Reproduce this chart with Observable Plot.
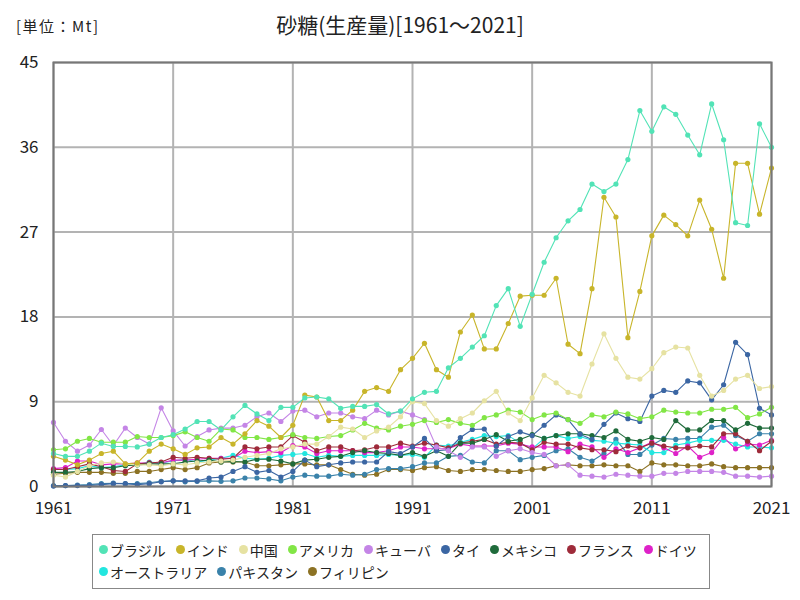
<!DOCTYPE html>
<html><head><meta charset="utf-8">
<script src="https://cdn.jsdelivr.net/npm/d3@7"></script>
<script src="https://cdn.jsdelivr.net/npm/@observablehq/plot@0.6"></script>
<style>
body{margin:0;background:#fff;}
#wrap{position:relative;width:800px;height:600px;font-family:"Noto Sans CJK JP",sans-serif;color:#222;}
#chart{position:absolute;left:0;top:0;}
#unit{position:absolute;left:16px;top:15px;font-size:15px;letter-spacing:1.5px;font-family:"Liberation Sans Narrow","Noto Sans CJK JP",sans-serif;}
#title{position:absolute;left:0;width:800px;top:9px;text-align:center;font-size:21px;font-family:"Liberation Sans Narrow","Noto Sans CJK JP",sans-serif;}
#legend{position:absolute;left:92px;top:534px;width:618px;height:55px;border:1.5px solid #888;box-sizing:border-box;padding:5px 4px 0 6px;display:flex;flex-wrap:wrap;column-gap:10px;row-gap:3px;align-content:flex-start;font-size:14px;}
.it{display:inline-flex;align-items:center;height:19px;white-space:nowrap;}
.mk{width:9px;height:9px;border-radius:50%;margin-right:2px;display:inline-block;}
</style></head><body>
<div id="wrap">
<div id="chart"></div>
<div id="unit">[単位：Mt]</div>
<div id="title">砂糖(生産量)[1961～2021]</div>
<div id="legend"></div>
</div>
<script>
const years = d3.range(1961, 2022);
const names = ["ブラジル","インド","中国","アメリカ","キューバ","タイ","メキシコ","フランス","ドイツ","オーストラリア","パキスタン","フィリピン"];
const colors = ["#52e3b6","#c8b52a","#e6e2a2","#82e646","#c485e6","#3b66a3","#1f6b3b","#9e2b3a","#de22c8","#22e6df","#3a82aa","#8c7224"];
const xTicks = [1961,1971,1981,1991,2001,2011,2021];
const yTicks = [0,9,18,27,36,45];

const brazil = [3.5,3.2,3.2,3.75,4.6,4.25,4.25,4.2,4.5,5.2,
5.5,6.1,6.9,6.9,6.0,7.4,8.6,7.7,7.0,8.4,
8.4,9.4,9.5,9.3,8.3,8.5,8.5,8.7,7.7,8.0,
9.3,10.0,10.1,12.6,13.6,14.8,16.0,19.2,21.0,17.0,
20.4,23.8,26.4,28.2,29.4,32.1,31.3,32.1,34.7,39.9,
37.7,40.3,39.5,37.3,35.2,40.6,36.8,28.0,27.7,38.5,36.0];
const india = [3.2,2.8,2.3,2.8,3.5,3.75,2.4,2.5,3.75,4.5,
4.0,3.4,4.1,4.2,5.2,4.5,5.6,7.0,6.4,5.2,
6.5,9.7,9.5,7.0,7.0,8.1,10.1,10.5,10.1,12.4,
13.6,15.2,12.4,11.6,16.4,18.2,14.6,14.6,17.3,20.2,
20.3,20.3,22.1,15.1,14.1,21.0,30.7,28.6,15.8,20.7,
26.6,28.8,27.8,26.6,30.4,27.3,22.1,34.3,34.3,28.9,33.8];
const china = [1.2,1.0,1.6,2.2,2.5,2.6,2.4,2.3,2.3,2.2,
2.4,2.3,2.5,2.6,2.7,2.8,3.1,3.3,3.5,4.0,
4.2,4.5,4.5,5.3,6.3,6.1,5.2,5.9,6.3,7.4,
9.0,8.8,7.0,6.4,7.2,7.8,9.1,10.1,7.8,7.0,
9.4,11.8,11.0,10.0,9.6,13.0,16.2,13.6,11.6,11.4,
12.5,14.2,14.8,14.7,11.8,9.6,10.2,11.4,11.8,10.4,10.6];
const usa = [3.9,4.0,4.8,5.1,4.7,4.7,4.7,5.3,5.2,5.2,
5.4,5.8,5.2,4.8,6.1,6.0,5.2,5.2,5.0,5.2,
5.5,5.2,5.1,5.3,5.4,6.0,6.7,6.2,6.0,6.4,
6.6,7.0,6.8,7.1,6.7,6.5,7.3,7.6,8.1,7.9,
7.1,7.6,7.8,7.1,6.7,7.6,7.4,7.9,7.7,7.2,
7.4,8.1,7.9,7.8,7.8,8.2,8.2,8.4,7.3,7.7,8.4];
const cuba = [6.8,4.8,3.75,4.4,6.05,4.35,6.2,5.2,4.5,8.35,
5.9,4.3,5.3,6.0,6.2,6.2,6.5,7.4,7.8,6.9,
8.0,8.1,7.4,7.8,7.8,7.4,7.2,8.1,7.6,8.0,
7.6,7.1,4.2,3.8,3.1,4.2,4.2,3.2,3.8,4.0,
3.6,3.4,2.2,2.3,1.2,1.1,1.0,1.3,1.2,1.1,
1.1,1.4,1.4,1.6,1.6,1.6,1.5,1.1,1.1,1.0,1.1];
const thailand = [0.05,0.1,0.1,0.1,0.2,0.3,0.3,0.2,0.3,0.5,
0.6,0.6,0.6,0.9,1.0,1.6,2.1,1.5,1.7,1.0,
1.6,2.8,2.1,2.3,2.5,2.6,2.6,2.6,3.7,3.5,
4.2,5.1,3.8,3.9,5.2,6.05,6.1,4.3,5.3,5.8,
5.4,6.5,7.6,7.1,5.55,5.0,6.6,7.8,7.2,6.9,
9.6,10.2,10.0,11.2,11.0,9.2,10.8,15.3,14.0,8.3,7.6];
const mexico = [1.5,1.5,1.6,1.9,2.0,2.0,2.2,2.3,2.4,2.4,
2.4,2.6,2.7,2.8,2.6,2.65,2.6,2.9,2.9,2.7,
2.4,2.8,2.9,3.1,3.2,3.6,3.8,3.6,3.5,3.3,
3.6,3.2,3.8,3.2,4.6,4.6,5.0,5.5,4.8,5.0,
5.5,5.1,5.4,5.6,5.6,5.4,5.2,5.9,5.0,4.8,
5.2,5.0,7.0,6.0,6.0,7.0,7.0,6.0,6.7,6.2,6.2];
const france = [1.8,1.8,2.1,2.4,2.1,1.7,1.6,2.4,2.5,2.6,
3.1,3.0,3.1,3.0,2.9,3.0,4.2,4.0,4.2,4.2,
5.4,4.7,3.8,4.2,4.2,3.8,3.9,4.2,4.2,4.6,
4.3,4.6,4.4,4.1,4.6,4.8,5.0,4.5,4.7,4.6,
3.9,4.7,4.5,4.5,4.1,3.9,3.9,3.7,4.3,4.1,
4.6,4.3,4.1,4.1,4.3,4.2,5.6,5.6,4.8,3.8,4.8];
const germany = [1.9,2.0,2.7,2.7,2.3,2.4,2.4,2.5,2.5,2.5,
2.8,2.8,2.9,3.0,3.0,3.0,3.75,3.6,3.7,3.6,
4.35,4.2,3.5,3.8,3.8,3.8,3.6,3.6,3.8,4.2,
4.2,4.0,4.0,4.0,4.5,4.3,4.3,4.3,4.6,4.5,
4.2,4.2,4.2,3.7,4.5,4.2,3.1,4.0,3.6,4.1,
4.7,4.1,3.5,4.3,3.1,3.6,5.2,4.0,4.5,4.4,4.9];
const australia = [1.8,1.8,1.9,2.2,2.0,2.1,2.3,2.3,2.6,2.5,
2.7,2.9,2.6,2.8,3.0,3.3,3.0,2.9,3.0,3.3,
3.4,3.5,3.1,3.3,3.2,3.3,3.3,3.3,3.4,3.3,
3.4,3.1,4.4,4.3,4.7,5.0,5.4,5.3,5.4,4.6,
4.0,5.1,5.4,5.1,5.3,4.9,4.8,4.6,4.5,4.4,
3.6,3.6,4.4,4.6,4.9,4.9,4.9,4.5,4.2,4.2,4.1];
const pakistan = [0.1,0.1,0.15,0.2,0.3,0.35,0.3,0.3,0.4,0.55,
0.6,0.5,0.55,0.6,0.55,0.6,0.9,0.9,0.8,0.6,
1.0,1.2,1.1,1.1,1.3,1.2,1.3,1.8,1.9,1.9,
2.1,2.5,2.5,3.2,3.3,2.6,2.5,3.8,3.8,2.85,
3.1,3.3,3.8,4.0,3.1,2.7,3.5,5.0,3.4,3.4,
4.4,5.1,5.0,5.1,5.1,6.3,6.5,5.4,4.8,5.6,5.6];
const philippines = [1.3,1.4,1.5,1.5,1.5,1.4,1.4,1.6,1.6,1.8,
2.0,1.8,2.0,2.5,2.6,2.6,2.6,2.2,2.2,2.3,
2.4,2.4,2.3,2.3,1.8,1.3,1.2,1.3,1.8,1.8,
1.7,2.0,2.1,1.7,1.6,1.8,1.8,1.7,1.6,1.6,
1.8,1.9,2.2,2.3,2.2,2.2,2.3,2.2,2.2,1.6,
2.5,2.3,2.3,2.2,2.2,2.4,2.1,2.0,2.0,2.0,2.0];

const series = [brazil,india,china,usa,cuba,thailand,mexico,france,germany,australia,pakistan,philippines];
const data = [];
series.forEach((vals,i)=>vals.forEach((v,j)=>data.push({name:names[i],year:years[j],value:v})));
const drawOrder = data.slice().reverse();

const font = '"Liberation Sans Narrow","Noto Sans CJK JP",sans-serif';
const chart = Plot.plot({
  width:800, height:600,
  marginLeft:53, marginRight:29, marginTop:62, marginBottom:114,
  style:{fontFamily:font, fontSize:"17px", color:"#222", background:"transparent", overflow:"visible"},
  x:{domain:[1961,2021], label:null},
  y:{domain:[0,45], label:null},
  color:{domain:names, range:colors},
  marks:[
    Plot.gridX(xTicks,{stroke:"#b3b3b3",strokeOpacity:1,strokeWidth:2}),
    Plot.gridY(yTicks,{stroke:"#b3b3b3",strokeOpacity:1,strokeWidth:2}),
    Plot.line(drawOrder,{x:"year",y:"value",z:"name",stroke:"name",strokeWidth:1.1}),
    Plot.dot(drawOrder,{x:"year",y:"value",fill:"name",r:2.6}),
    Plot.frame({stroke:"#777",strokeWidth:2}),
    Plot.axisX({ticks:xTicks,tickFormat:d=>String(d),tickSize:0,tickPadding:15}),
    Plot.axisY({ticks:yTicks,tickSize:0,tickPadding:15})
  ]
});
document.getElementById("chart").appendChild(chart);

const lg = document.getElementById("legend");
names.forEach((n,i)=>{
  const it=document.createElement("span"); it.className="it";
  const mk=document.createElement("span"); mk.className="mk"; mk.style.background=colors[i];
  it.appendChild(mk); it.appendChild(document.createTextNode(n));
  lg.appendChild(it);
});
</script>
</body></html>
